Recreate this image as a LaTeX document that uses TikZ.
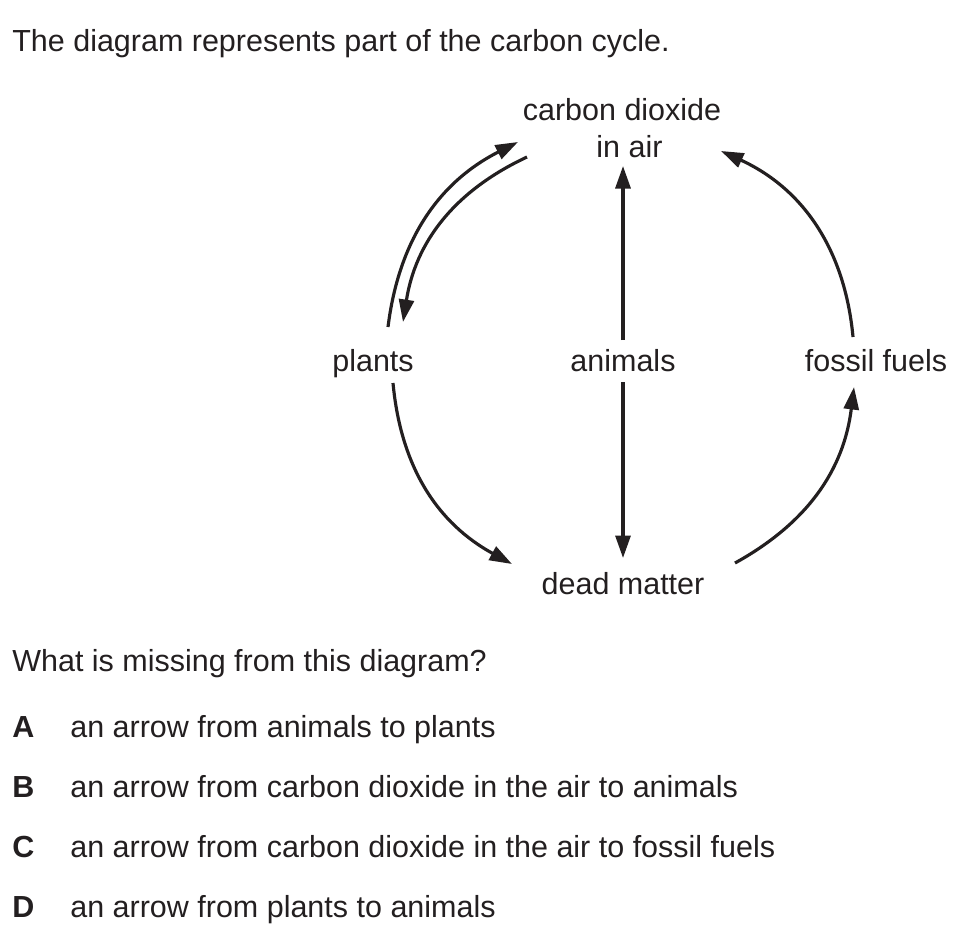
\documentclass[tikz,border=0pt]{standalone}
\usepackage{fontspec}
\setmainfont{Liberation Sans}
\usepackage{xcolor}
\usepackage{tikz}
\usetikzlibrary{arrows.meta,positioning}
\definecolor{ink}{HTML}{231F20}

\begin{document}
\begin{tikzpicture}[x=0.02cm, y=-0.02cm,
    every node/.style={font=\fontsize{17.35pt}{21pt}\selectfont, text=ink, inner sep=0pt},
    lbl/.style={anchor=base},
    txt/.style={anchor=base west},
    flow/.style={draw=ink, line width=1.8pt, -{Triangle[length=0.45cm, width=0.3cm]}}]
      \useasboundingbox (0,0) rectangle (962,937);
      \node[txt] (title) at (12,51) {The diagram represents part of the carbon cycle.};
      % cycle labels
      \node[lbl, align=center] (co2) at (622,157) {carbon dioxide\\\hspace*{0.3cm}in air};
      \node[lbl] (plants)  at (373,371) {plants};
      \node[lbl] (animals) at (623,371) {animals};
      \node[lbl] (fossil)  at (876,371) {fossil fuels};
      \node[lbl] (dead)    at (623,594) {dead matter};
      % arrows
      \path[flow] ([shift={(15,-44)}]plants.base) to[bend left=28] ([shift={(-104,-15)}]co2.base);
      \path[flow] ([shift={(-95,0)}]co2.base) to[bend right=28] ([shift={(30,-49)}]plants.base);
      \path[flow] ([shift={(0,-31)}]animals.base) -- ([shift={(1,9)}]co2.base);
      \path[flow] ([shift={(-23,-34)}]fossil.base) to[bend right=30] ([shift={(99,-6)}]co2.base);
      \path[flow] ([shift={(20,12)}]plants.base) to[bend right=28] ([shift={(-111,-30)}]dead.base);
      \path[flow] ([shift={(0,11)}]animals.base) -- ([shift={(0,-36)}]dead.base);
      \path[flow] ([shift={(112,-31)}]dead.base) to[bend right=27] ([shift={(-22,16)}]fossil.base);
      % question
      \node[txt] (quest) at (12,671) {What is missing from this diagram?};
      \node[txt] (keyA) at (12,737) {\textbf{A}};
      \node[txt] (optA) at (70,737) {an arrow from animals to plants};
      \node[txt] (keyB) at (12,797) {\textbf{B}};
      \node[txt] (optB) at (70,797) {an arrow from carbon dioxide in the air to animals};
      \node[txt] (keyC) at (12,857) {\textbf{C}};
      \node[txt] (optC) at (70,857) {an arrow from carbon dioxide in the air to fossil fuels};
      \node[txt] (keyD) at (12,917) {\textbf{D}};
      \node[txt] (optD) at (70,917) {an arrow from plants to animals};
\end{tikzpicture}
\end{document}
